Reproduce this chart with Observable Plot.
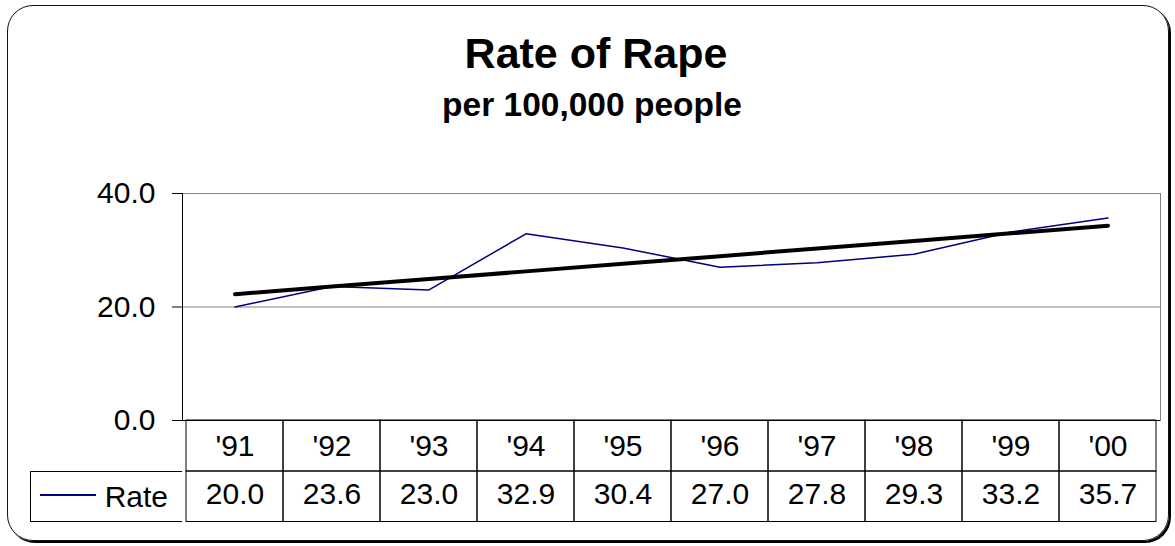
<!DOCTYPE html>
<html>
<head>
<meta charset="utf-8">
<script src="https://cdn.jsdelivr.net/npm/d3@7"></script>
<script src="https://cdn.jsdelivr.net/npm/@observablehq/plot@0.6"></script>
<style>
  html, body { margin: 0; padding: 0; background: #fff; }
  body { width: 1175px; height: 546px; position: relative; overflow: hidden;
         font-family: "Liberation Sans", Arial, sans-serif; color: #000; }
  #frame { position: absolute; left: 7px; top: 5px; width: 1162px; height: 536px;
           box-sizing: border-box; border: 1.5px solid #111; border-radius: 26px;
           box-shadow: 2px 2px 0 #000; }
  #title { position: absolute; left: 0; width: 1192px; top: 32px; text-align: center;
           font-size: 43px; line-height: 43px; font-weight: bold; }
  #subtitle { position: absolute; left: 0; width: 1184px; top: 88px; text-align: center;
              font-size: 33.5px; line-height: 34px; font-weight: bold; }
  #chart { position: absolute; left: 0; top: 150px; }
  #legend { position: absolute; left: 30px; top: 471px; width: 152px; height: 51px;
            box-sizing: border-box; border: 1px solid #000; border-right: none; }
  #legend .swatch { position: absolute; left: 9px; top: 22px; width: 56px; height: 2px;
                    background: #000080; }
  #legend .lab { position: absolute; right: 14px; top: 0; line-height: 49px; font-size: 30px; }
</style>
</head>
<body>
<div id="frame"></div>
<div id="title">Rate of Rape</div>
<div id="subtitle">per 100,000 people</div>
<div id="chart"></div>
<div id="legend"><div class="swatch"></div><div class="lab">Rate</div></div>
<script>
const years = ["'91", "'92", "'93", "'94", "'95", "'96", "'97", "'98", "'99", "'00"];
const rates = [20.0, 23.6, 23.0, 32.9, 30.4, 27.0, 27.8, 29.3, 33.2, 35.7];
const seriesName = "Rate";
const yTicks = [0, 20, 40];

const data = years.map((year, i) => ({year, rate: rates[i]}));

// linear trend (least squares) over the category index
const idx = d3.range(rates.length);
const mx = d3.mean(idx), my = d3.mean(rates);
const slope = d3.sum(idx, i => (i - mx) * (rates[i] - my)) / d3.sum(idx, i => (i - mx) ** 2);
const trend = years.map((year, i) => ({year, value: my + slope * (i - mx)}));

const fmt = d => d.toFixed(1);

const plot = Plot.plot({
  width: 1175,
  height: 390,
  marginLeft: 182,
  marginRight: 15,
  marginTop: 43,
  marginBottom: 120,
  style: {fontFamily: "'Liberation Sans', Arial, sans-serif", fontSize: "30px", color: "#000", background: "transparent", overflow: "visible"},
  x: {type: "band", domain: years, padding: 0, axis: null},
  y: {domain: [0, 40], ticks: yTicks, tickFormat: fmt, tickSize: 10, tickPadding: 17, label: null},
  marks: [
    Plot.frame({stroke: "#808080"}),
    Plot.ruleY([20], {stroke: "#808080"}),
    Plot.frame({anchor: "left", stroke: "#000"}),
    Plot.ruleY([0], {stroke: "#000"}),
    // data table cells (category row and value row)
    Plot.barY(data, {x: "year", y1: 0, y2: 0, insetTop: 0, insetBottom: -51, fill: "none", stroke: "#000"}),
    Plot.barY(data, {x: "year", y1: 0, y2: 0, insetTop: 51, insetBottom: -101.5, fill: "none", stroke: "#000"}),
    Plot.text(data, {x: "year", text: "year", frameAnchor: "bottom", dy: 25.5, fontSize: 30, lineAnchor: "middle"}),
    Plot.text(data, {x: "year", text: d => fmt(d.rate), frameAnchor: "bottom", dy: 74, fontSize: 30, lineAnchor: "middle"}),
    // series and trend
    Plot.line(data, {x: "year", y: "rate", stroke: "#000080", strokeWidth: 1.5}),
    Plot.line(trend, {x: "year", y: "value", stroke: "#000", strokeWidth: 4})
  ]
});
document.getElementById("chart").appendChild(plot);
document.querySelector("#legend .lab").textContent = seriesName;
</script>
</body>
</html>
